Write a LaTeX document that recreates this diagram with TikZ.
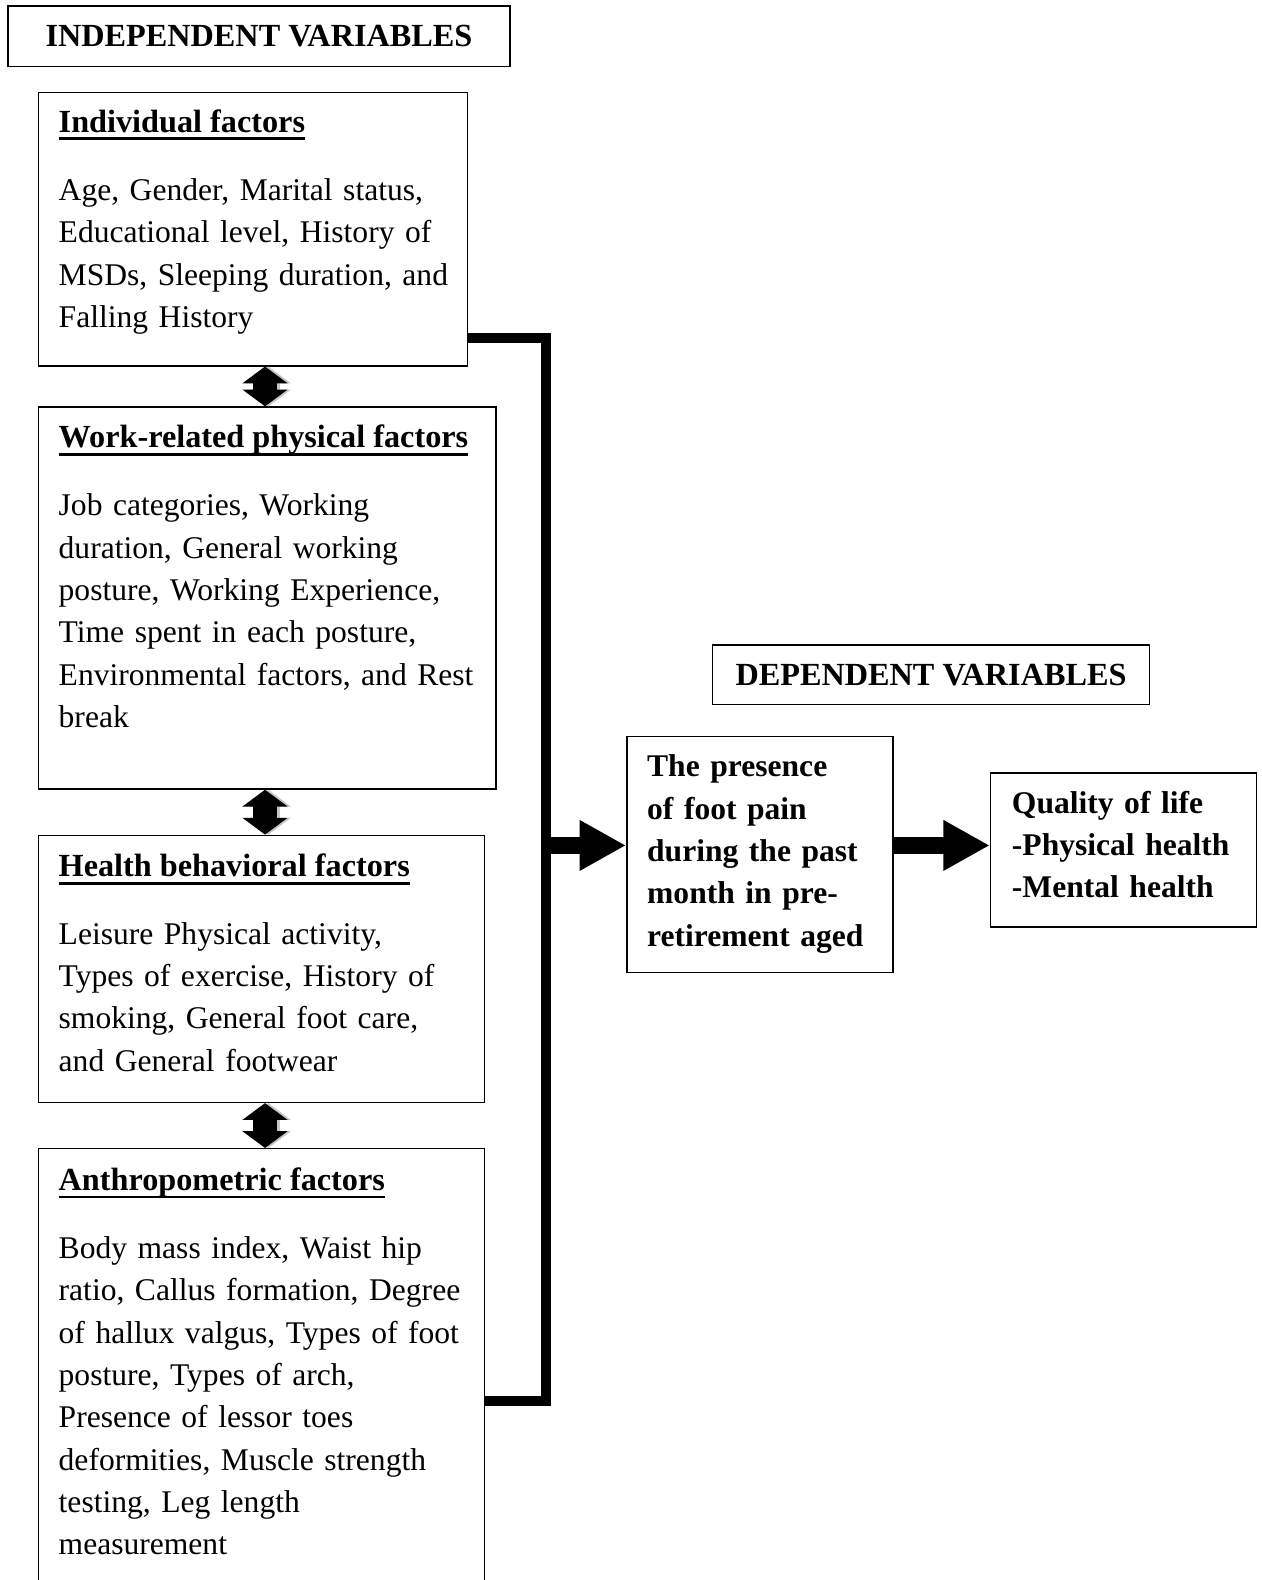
\documentclass[tikz,border=0pt]{standalone}
\usepackage{fontspec}
\setmainfont{Liberation Serif}
\usetikzlibrary{arrows.meta,fit,calc}
\newcommand\hdul[1]{\setbox0\hbox{#1}\rlap{\vrule width\wd0 height -0.17em depth 0.26em}\box0}
\tikzset{
  box/.style={draw, line width=1.1pt, inner sep=0pt},
  ttltext/.style={inner sep=0pt, font=\fontsize{24}{31.5}\selectfont\bfseries},
  body/.style={anchor=base west, inner sep=0pt, text width=600pt, align=left, font=\fontsize{23.5}{31.5}\selectfont},
  bodyb/.style={body, font=\fontsize{23.5}{31.5}\selectfont\bfseries},
  head/.style={anchor=base west, inner sep=0pt, font=\fontsize{24}{31.5}\selectfont\bfseries},
  link/.style={line width=7.5pt, line join=miter},
  bigarrow/.style={line width=12.75pt, -{Triangle[length=34.5pt, width=35.25pt]}},
  dbl/.style={line width=18pt, {Triangle[length=12.5pt,width=33pt]}-{Triangle[length=12.5pt,width=33pt]}},
  dblshadow/.style={dbl, gray!45, xshift=2.5pt, yshift=-3.5pt}
}
\begin{document}
\begin{tikzpicture}[x=0.75pt, y=-0.75pt]
\useasboundingbox (0,0) rectangle (1252,1568);
\clip (0,0) rectangle (1252,1568);

% titles
\node[box, fit={(8,6) (506,66)}] (iv) {};
\node[ttltext] (ivt) at (iv.center) {INDEPENDENT VARIABLES};
\node[box, fit={(707,640) (1141,699)}] (dv) {};
\node[ttltext] (dvt) at (dv.center) {DEPENDENT VARIABLES};

% independent boxes
\node[box, fit={(38,92) (464,363)}] (a) {};
\node[box, fit={(38,404) (492,783)}] (b) {};
\node[box, fit={(38,829) (481,1094)}] (c) {};
\node[box, fit={(38,1140) (481,1610)}] (d) {};

\node[head] (ah) at (58,131) {\hdul{Individual factors}};
\node[body] (at) at (58,199) {Age, Gender, Marital status,\\Educational level, History of\\MSDs, Sleeping duration, and\\Falling History};

\node[head] (bh) at (58,444) {\hdul{Work-related physical factors}};
\node[body] (bt) at (58,512) {Job categories, Working\\duration, General working\\posture, Working Experience,\\Time spent in each posture,\\Environmental factors, and Rest\\break};

\node[head] (ch) at (58,870) {\hdul{Health behavioral factors}};
\node[body] (ct) at (58,937) {Leisure Physical activity,\\Types of exercise, History of\\smoking, General foot care,\\and General footwear};

\node[head] (dh) at (58,1181) {\hdul{Anthropometric factors}};
\node[body] (dt) at (58,1249) {Body mass index, Waist hip\\ratio, Callus formation, Degree\\of hallux valgus, Types of foot\\posture, Types of arch,\\Presence of lessor toes\\deformities, Muscle strength\\testing, Leg length\\measurement};

% dependent boxes
\node[box, fit={(622,731) (886,965)}] (p) {};
\node[bodyb] (pt) at (642,771) {The presence\\of foot pain\\during the past\\month in pre-\\retirement aged};
\node[box, fit={(983,767) (1247,920)}] (q) {};
\node[bodyb] (qt) at (1004,807) {Quality of life\\-Physical health\\-Mental health};

% double arrows between independent boxes
\draw[dblshadow] (263,0 |- a.south) -- (263,0 |- b.north);
\draw[dbl] (263,0 |- a.south) -- (263,0 |- b.north);
\draw[dblshadow] (263,0 |- b.south) -- (263,0 |- c.north);
\draw[dbl] (263,0 |- b.south) -- (263,0 |- c.north);
\draw[dblshadow] (263,0 |- c.south) -- (263,0 |- d.north);
\draw[dbl] (263,0 |- c.south) -- (263,0 |- d.north);

% collecting connector
\coordinate (j) at (542,839);
\draw[link] ($(a.south east)+(0,-28)$) -| (j) |- ($(d.north east)+(0,251)$);

% arrows
\draw[bigarrow] (j) -- (p.west |- j);
\draw[bigarrow] (p.east |- j) -- (q.west |- j);
\end{tikzpicture}
\end{document}
